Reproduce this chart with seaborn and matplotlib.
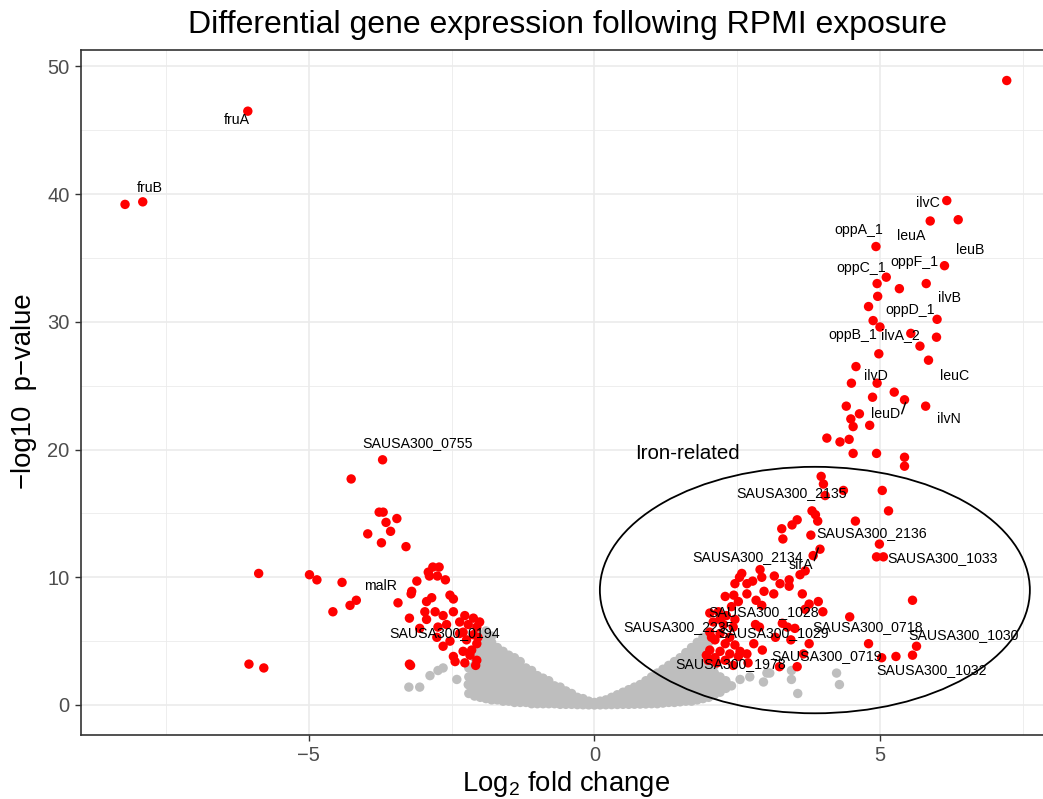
import numpy as np
import pandas as pd
import matplotlib
matplotlib.use("Agg")
import matplotlib.pyplot as plt
import seaborn as sns
from matplotlib.patches import Ellipse

# ---- significant genes (log2 fold change, -log10 p) ----
sig_x = [7.22, -6.07, -7.91, -8.22,
         6.17, 6.37, 5.88, 4.93, 6.13, 5.11, 4.95, 5.34, 5.81, 4.96, 4.80, 6.00,
         4.88, 5.00, 5.54, 5.99, 5.70, 4.98, 5.85, 4.58, 4.50, 4.95, 5.25, 4.87,
         5.43, 5.80, 4.41, 4.64, 4.49, 4.53, 4.82, 4.07, 4.30, 4.46, 4.53, 4.94,
         5.43, 5.43, 3.97, 4.01, 4.36, 4.04, 5.04, 3.81, 3.87, 3.91, 5.15, 4.57,
         3.55, 3.46, 3.28, 3.30, 3.79, 4.99, 3.95, 4.94, 5.06, 3.83, 3.69, 3.60,
         2.90, 2.58, 2.54, 2.93, 3.15, 3.41, 3.41, 3.25, 2.77, 2.67, 2.46, 2.67,
         2.97, 3.14, 3.64, 3.92, 3.76, 2.29, 2.44, 2.83, 2.93, 5.57, 4.00, 3.69,
         4.47, 3.29, 3.38, 3.51, 2.82, 2.89, 3.17, 3.44, 3.76, 2.79, 2.94, 4.80,
         5.64, 5.57, 5.28, 5.03, 3.66, 3.55, 3.24,
         2.02, 2.17, 2.31, 2.46, 2.08, 2.26, 2.43, 2.02, 2.20, 2.37, 2.11, 2.29,
         2.46, 2.02, 2.20, 2.37, 2.55, 2.67, 1.96, 2.11, 2.29, 2.52, 2.69, 1.99,
         2.14, 2.43, 2.05, 2.20, 2.40, 2.52,
         -3.71, -4.26, -3.77, -3.70, -3.46, -3.65, -3.57, -3.97, -3.73, -3.30,
         -5.88, -4.99, -4.86, -4.42, -4.17, -4.28, -4.58, -6.05, -5.79, -3.24,
         -3.22, -3.44, -3.24, -3.11, -3.20, -3.21, -2.91, -2.83, -2.72, -2.89,
         -2.75, -2.61, -2.94, -2.85, -2.53, -2.47, -2.97, -2.79, -2.65, -2.47,
         -2.94, -3.06, -2.74, -2.59, -2.27, -2.12, -2.36, -2.21, -2.06, -2.30,
         -2.12, -2.76, -2.53, -2.65, -2.24, -2.06, -2.30, -2.15, -2.47, -2.44,
         -2.27, -2.06, -2.08, -2.18, -2.36, -2.01, -2.04]
sig_y = [48.9, 46.5, 39.4, 39.2,
         39.5, 38.0, 37.9, 35.9, 34.4, 33.5, 33.0, 32.6, 33.0, 32.0, 31.2, 30.2,
         30.1, 29.6, 29.1, 28.8, 28.1, 27.5, 27.0, 26.5, 25.2, 25.2, 24.5, 24.1,
         23.9, 23.4, 23.4, 22.8, 22.4, 21.8, 21.9, 20.9, 20.6, 20.8, 19.7, 19.7,
         19.4, 18.7, 17.9, 17.3, 16.8, 16.4, 16.8, 15.2, 14.9, 14.4, 15.2, 14.4,
         14.5, 14.1, 13.8, 13.0, 13.3, 12.6, 12.2, 11.6, 11.6, 11.7, 10.5, 10.2,
         10.6, 10.3, 10.0, 10.0, 10.1, 9.8, 9.3, 9.5, 9.7, 9.5, 9.5, 8.7,
         8.9, 8.7, 8.7, 8.1, 7.9, 8.5, 8.6, 8.2, 7.8, 8.2, 7.3, 7.5,
         6.9, 6.4, 6.1, 6.0, 6.3, 6.1, 5.3, 5.1, 4.8, 4.8, 4.3, 4.8,
         4.6, 3.9, 3.8, 3.7, 4.0, 3.0, 3.0,
         7.2, 7.3, 7.0, 6.7, 6.5, 6.3, 6.1, 5.7, 5.6, 5.3, 5.1, 4.8,
         4.7, 4.3, 4.2, 4.0, 4.2, 4.0, 3.9, 3.7, 3.5, 3.8, 3.3, 3.5,
         3.3, 3.1, 5.3, 6.7, 7.7, 8.1,
         19.2, 17.7, 15.1, 15.1, 14.6, 14.3, 13.6, 13.4, 12.7, 12.4,
         10.3, 10.2, 9.8, 9.6, 8.2, 7.8, 7.3, 3.2, 2.9, 3.2,
         3.1, 8.0, 6.8, 9.7, 8.9, 8.7, 10.4, 10.8, 10.8, 10.1,
         10.1, 9.8, 8.1, 8.4, 8.6, 8.3, 7.3, 7.3, 7.0, 7.3,
         6.7, 6.0, 6.1, 6.3, 7.0, 6.8, 6.5, 6.3, 6.1, 5.7,
         5.5, 5.3, 5.0, 4.6, 5.1, 4.8, 4.2, 4.3, 3.8, 3.4,
         3.3, 3.5, 3.1, 3.9, 5.6, 6.5, 5.3]

# ---- non-significant genes: columns of the central cloud ----
ns_columns = [
    (-2.20, [0.9, 1.6, 2.2, 2.9]),
    (-2.10, [0.7, 1.3, 1.9, 2.5, 3.1, 3.7, 4.3]),
    (-2.00, [0.6, 1.1, 1.7, 2.3, 2.9, 3.5, 4.1, 4.8, 5.5]),
    (-1.90, [0.5, 1.0, 1.5, 2.1, 2.7, 3.3, 3.9, 4.5, 5.1, 5.8]),
    (-1.80, [0.4, 0.9, 1.4, 2.0, 2.5, 3.1, 3.7, 4.3, 4.9, 5.4]),
    (-1.70, [0.4, 0.8, 1.3, 1.8, 2.3, 2.9, 3.4, 4.0, 4.5]),
    (-1.60, [0.3, 0.7, 1.2, 1.7, 2.2, 2.7, 3.2, 3.7, 4.2]),
    (-1.50, [0.3, 0.7, 1.1, 1.6, 2.1, 2.5, 3.0, 3.5, 3.9]),
    (-1.40, [0.2, 0.6, 1.0, 1.5, 1.9, 2.4, 2.8, 3.3, 3.7]),
    (-1.30, [0.2, 0.6, 1.0, 1.4, 1.8, 2.2, 2.6, 3.0, 3.4]),
    (-1.20, [0.2, 0.5, 0.9, 1.3, 1.7, 2.1, 2.5, 2.9]),
    (-1.10, [0.1, 0.5, 0.9, 1.2, 1.6, 2.0, 2.4, 2.7]),
    (-1.00, [0.1, 0.4, 0.8, 1.1, 1.5, 1.9, 2.3]),
    (-0.90, [0.1, 0.4, 0.7, 1.0, 1.4, 1.7, 2.1]),
    (-0.80, [0.1, 0.4, 0.7, 1.0, 1.3, 1.6, 1.9]),
    (-0.70, [0.1, 0.3, 0.6, 0.9, 1.2, 1.5]),
    (-0.60, [0.05, 0.3, 0.6, 0.9, 1.2, 1.4]),
    (-0.50, [0.05, 0.3, 0.5, 0.8, 1.1]),
    (-0.40, [0.05, 0.25, 0.5, 0.7, 0.9]),
    (-0.30, [0.03, 0.2, 0.4, 0.6]),
    (-0.20, [0.02, 0.2, 0.4, 0.5]),
    (-0.10, [0.01, 0.15, 0.3]),
    (0.00, [0.0, 0.1, 0.2]),
    (0.10, [0.01, 0.15, 0.3]),
    (0.20, [0.02, 0.2, 0.4]),
    (0.30, [0.03, 0.25, 0.5, 0.6]),
    (0.40, [0.04, 0.3, 0.55, 0.8]),
    (0.50, [0.05, 0.3, 0.6, 0.9, 1.0]),
    (0.60, [0.05, 0.35, 0.65, 0.95, 1.2]),
    (0.70, [0.06, 0.4, 0.7, 1.0, 1.4]),
    (0.80, [0.07, 0.4, 0.75, 1.1, 1.4, 1.6]),
    (0.90, [0.08, 0.45, 0.8, 1.2, 1.5, 1.9]),
    (1.00, [0.1, 0.5, 0.9, 1.3, 1.7, 2.2]),
    (1.10, [0.1, 0.5, 0.9, 1.4, 1.8, 2.2, 2.5]),
    (1.20, [0.15, 0.6, 1.0, 1.4, 1.9, 2.3, 2.8]),
    (1.30, [0.2, 0.6, 1.1, 1.5, 2.0, 2.5, 3.1]),
    (1.40, [0.2, 0.7, 1.2, 1.6, 2.1, 2.6, 3.0, 3.4]),
    (1.50, [0.25, 0.7, 1.2, 1.7, 2.2, 2.7, 3.2, 3.7]),
    (1.60, [0.3, 0.8, 1.3, 1.8, 2.3, 2.8, 3.3, 3.7, 4.1]),
    (1.70, [0.3, 0.8, 1.4, 1.9, 2.4, 2.9, 3.5, 4.0, 4.5]),
    (1.80, [0.4, 0.9, 1.4, 2.0, 2.6, 3.1, 3.7, 4.3, 4.9]),
    (1.90, [0.5, 1.0, 1.5, 2.1, 2.7, 3.3, 3.9, 4.6, 5.3]),
    (2.00, [0.6, 1.1, 1.7, 2.3, 2.9, 3.5, 4.2, 4.9, 5.7]),
    (2.10, [0.8, 1.3, 1.9, 2.5, 3.1, 3.7]),
    (2.20, [1.0, 1.6, 2.2]),
    (2.30, [1.3, 1.9]),
    (2.40, [1.5]),
]
ns_extra_x = [-2.88, -2.74, -2.65, -3.25, -3.06, -2.41, -2.21,
              4.24, 4.29, 3.56, 3.45, 3.45, 2.96, 3.07, 2.72, 2.55, 2.31, 3.02]
ns_extra_y = [2.3, 2.7, 2.9, 1.4, 1.4, 2.0, 1.6,
              2.5, 1.6, 0.9, 2.7, 2.0, 1.8, 2.5, 2.2, 2.0, 1.7, 2.5]

# ---- gene labels: text and placement (data units) ----
label_text = ["fruA", "fruB", "SAUSA300_0755", "malR", "SAUSA300_0194",
              "ilvC", "oppA_1", "leuA", "leuB", "oppF_1", "oppC_1", "ilvB",
              "oppD_1", "oppB_1", "ilvA_2", "ilvD", "leuC", "leuD", "ilvN",
              "SAUSA300_2135", "SAUSA300_2136", "SAUSA300_2134", "sirA",
              "SAUSA300_1033", "SAUSA300_1028", "SAUSA300_0718", "SAUSA300_2235",
              "SAUSA300_1029", "SAUSA300_1030", "SAUSA300_0719", "SAUSA300_1978",
              "SAUSA300_1032"]
label_x = [-6.26, -7.78, -3.09, -3.75, -2.62,
           5.84, 4.63, 5.54, 6.58, 5.60, 4.67, 6.21,
           5.53, 4.53, 5.35, 4.93, 6.30, 5.10, 6.21,
           3.46, 4.86, 2.69, 3.62,
           6.09, 2.97, 4.79, 1.48,
           3.13, 6.47, 4.07, 2.39,
           5.91]
label_y = [45.8, 40.5, 20.5, 9.3, 5.6,
           39.3, 37.2, 36.7, 35.6, 34.7, 34.2, 31.9,
           30.9, 29.0, 29.0, 25.8, 25.8, 22.8, 22.4,
           16.6, 13.5, 11.6, 11.0,
           11.5, 7.3, 6.1, 6.1,
           5.6, 5.5, 3.8, 3.2,
           2.7]

# ---- assemble long-form table ----
ns_x, ns_y = [], []
for cx, ys in ns_columns:
    ns_x += [cx] * len(ys)
    ns_y += ys
ns_x += ns_extra_x
ns_y += ns_extra_y

df = pd.DataFrame({
    "log2fc": ns_x + sig_x,
    "nlp": ns_y + sig_y,
    "group": ["ns"] * len(ns_x) + ["sig"] * len(sig_x),
})

# ---- style ----
sns.set_theme(style="white")
plt.rcParams["font.family"] = ["Liberation Sans", "DejaVu Sans"]
plt.rcParams["text.color"] = "black"
plt.rcParams["mathtext.fontset"] = "custom"
plt.rcParams["mathtext.rm"] = "Liberation Sans"
plt.rcParams["mathtext.it"] = "Liberation Sans:italic"

W, H = 1043, 799
fig = plt.figure(figsize=(W / 100, H / 100), dpi=100)
ax = fig.add_axes([80.5 / W, 64 / H, (W - 80.5) / W, 685 / H])

sns.scatterplot(data=df, x="log2fc", y="nlp", hue="group",
                palette={"ns": "#BEBEBE", "sig": "#FF0000"},
                hue_order=["ns", "sig"], s=46, linewidth=0,
                legend=False, ax=ax, zorder=3)

ax.set_xlim(-9.0, 7.855)
ax.set_ylim(-2.35, 51.29)

# gridlines
ax.set_xticks([-5, 0, 5])
ax.set_xticklabels(["\u22125", "0", "5"])
ax.set_yticks([0, 10, 20, 30, 40, 50])
ax.set_xticks([-7.5, -2.5, 2.5, 7.5], minor=True)
ax.set_yticks([5, 15, 25, 35, 45], minor=True)
ax.grid(which="major", color="#EBEBEB", linewidth=1.2)
ax.grid(which="minor", color="#EBEBEB", linewidth=0.6)
ax.set_axisbelow(True)
ax.tick_params(which="major", direction="out", length=4, width=1.0,
               color="#333333", labelsize=14.5, labelcolor="#4D4D4D", pad=4,
               bottom=True, left=True)
ax.tick_params(which="minor", length=0)
for side in ["left", "top", "bottom"]:
    ax.spines[side].set_color("#333333")
    ax.spines[side].set_linewidth(1.2)
ax.spines["right"].set_visible(False)
ax.set_xlabel("")
ax.set_ylabel("")

# iron-related region
ax.add_patch(Ellipse((3.86, 9.0), 7.53, 19.3, fill=False,
                     edgecolor="black", linewidth=1.3, zorder=4))
ax.text(1.62, 19.7, "Iron-related", fontsize=14.8, ha="center", va="center",
        color="black", zorder=5)

# gene labels
for t, lx, ly in zip(label_text, label_x, label_y):
    ax.text(lx, ly, t, fontsize=10.2, ha="center", va="center",
            color="black", zorder=5)
# leader lines for labels placed away from their point
ax.plot([3.92, 3.85], [12.3, 11.3], color="black", lw=1.0, zorder=5)
ax.plot([5.45, 5.38], [23.7, 22.8], color="black", lw=1.0, zorder=5)

# titles
fig.text(567 / W, 1 - 33 / H, "Differential gene expression following RPMI exposure",
         fontsize=23, ha="center", va="baseline", color="black")
fig.text(566 / W, 1 - 791 / H, "Log$_2$ fold change",
         fontsize=19.8, ha="center", va="baseline", color="black")
fig.text(24 / W, 1 - 391 / H, "\u2212log10  p\u2212value",
         fontsize=19.8, ha="center", va="center", rotation=90, color="black")

fig.savefig("out.png", dpi=100)
